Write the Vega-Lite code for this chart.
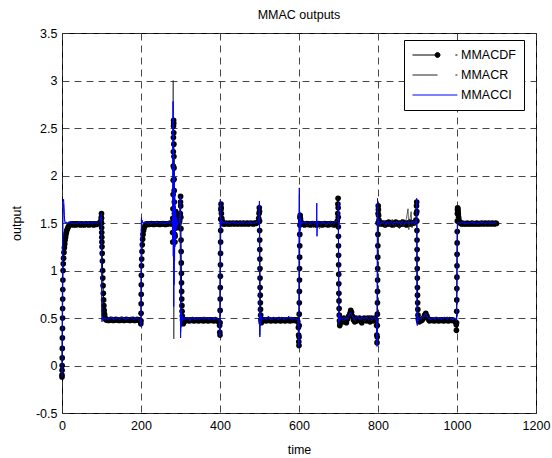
{
  "$schema": "https://vega.github.io/schema/vega-lite/v6.json",
  "autosize": {"type": "none"},
  "padding": {"left": 62, "top": 33, "right": 16, "bottom": 45},
  "width": 474,
  "height": 380,
  "background": "white",
  "title": {"text": "MMAC outputs", "font": "Liberation Sans", "fontSize": 12.5, "fontWeight": "normal", "color": "black", "offset": 6},
  "config": {
    "view": {"stroke": "black", "strokeWidth": 1},
    "axis": {
      "grid": true, "gridDash": [7, 5], "gridColor": "#333333", "gridWidth": 0.9, "gridOpacity": 1,
      "ticks": false, "domain": false, "labelFlush": false,
      "labelFont": "Liberation Sans", "labelFontSize": 12.5, "labelColor": "black",
      "titleFont": "Liberation Sans", "titleFontSize": 12.5, "titleFontWeight": "normal", "titleColor": "black"
    }
  },
  "datasets": {
    "df": [
      {"t":0,"v":-0.12},{"t":0,"v":-0.1},{"t":0.2,"v":-0.05},{"t":0.4,"v":0.0},{"t":0.6,"v":0.08},{"t":0.8,"v":0.18},{"t":1,"v":0.29},{"t":1.2,"v":0.39},{"t":1.4,"v":0.5},{"t":1.6,"v":0.6},{"t":1.8,"v":0.7},{"t":2,"v":0.8},{"t":2.3,"v":0.9},{"t":2.7,"v":1.0},{"t":3.2,"v":1.07},{"t":4,"v":1.13},{"t":5,"v":1.19},{"t":6,"v":1.24},{"t":7,"v":1.28},{"t":8,"v":1.32},{"t":9,"v":1.35},{"t":10,"v":1.38},{"t":11,"v":1.4},{"t":12,"v":1.42},{"t":14,"v":1.44},{"t":16,"v":1.46},{"t":18,"v":1.47},{"t":20,"v":1.48},{"t":23,"v":1.49},
      {"t":26,"v":1.49},{"t":29,"v":1.48},{"t":32,"v":1.49},{"t":35,"v":1.48},{"t":38,"v":1.49},{"t":41,"v":1.485},{"t":44,"v":1.49},{"t":47,"v":1.48},{"t":50,"v":1.49},{"t":53,"v":1.485},{"t":56,"v":1.48},{"t":59,"v":1.49},{"t":62,"v":1.485},{"t":65,"v":1.49},{"t":68,"v":1.48},{"t":71,"v":1.49},{"t":74,"v":1.485},{"t":77,"v":1.49},{"t":80,"v":1.48},{"t":83,"v":1.49},{"t":86,"v":1.485},{"t":89,"v":1.49},{"t":92,"v":1.495},{"t":95,"v":1.5},{"t":97,"v":1.51},{"t":98.5,"v":1.52},
      {"t":99.5,"v":1.56},{"t":100,"v":1.6},{"t":100,"v":1.55},{"t":100.2,"v":1.5},{"t":100.4,"v":1.45},{"t":100.6,"v":1.4},{"t":100.8,"v":1.35},{"t":101,"v":1.3},{"t":101.3,"v":1.25},{"t":101.8,"v":1.18},{"t":102.3,"v":1.1},{"t":102.8,"v":1.0},{"t":103.3,"v":0.92},{"t":104,"v":0.84},{"t":104.7,"v":0.76},{"t":105.4,"v":0.69},{"t":106,"v":0.63},{"t":106.8,"v":0.58},{"t":107.6,"v":0.54},{"t":108.5,"v":0.51},{"t":110,"v":0.49},{"t":112,"v":0.48},
      {"t":115,"v":0.48},{"t":118,"v":0.475},{"t":121,"v":0.48},{"t":124,"v":0.485},{"t":127,"v":0.48},{"t":130,"v":0.475},{"t":133,"v":0.48},{"t":136,"v":0.485},{"t":139,"v":0.48},{"t":142,"v":0.48},{"t":145,"v":0.475},{"t":148,"v":0.48},{"t":151,"v":0.485},{"t":154,"v":0.48},{"t":157,"v":0.475},{"t":160,"v":0.48},{"t":163,"v":0.485},{"t":166,"v":0.48},{"t":169,"v":0.48},{"t":172,"v":0.475},{"t":175,"v":0.48},{"t":178,"v":0.485},{"t":181,"v":0.48},{"t":184,"v":0.475},{"t":187,"v":0.48},{"t":190,"v":0.485},{"t":193,"v":0.48},{"t":196,"v":0.48},{"t":198,"v":0.47},
      {"t":199.5,"v":0.44},{"t":200,"v":0.47},{"t":200.2,"v":0.55},{"t":200.4,"v":0.65},{"t":200.6,"v":0.75},{"t":200.8,"v":0.85},{"t":201,"v":0.95},{"t":201.3,"v":1.05},{"t":201.8,"v":1.12},{"t":202.5,"v":1.2},{"t":203.3,"v":1.27},{"t":204.2,"v":1.33},{"t":205.2,"v":1.38},{"t":206.5,"v":1.42},{"t":208,"v":1.45},{"t":210,"v":1.47},{"t":212,"v":1.48},{"t":214,"v":1.49},
      {"t":217,"v":1.49},{"t":220,"v":1.485},{"t":223,"v":1.49},{"t":226,"v":1.495},{"t":229,"v":1.49},{"t":232,"v":1.485},{"t":235,"v":1.49},{"t":238,"v":1.49},{"t":241,"v":1.495},{"t":244,"v":1.49},{"t":247,"v":1.485},{"t":250,"v":1.49},{"t":253,"v":1.49},{"t":256,"v":1.495},{"t":259,"v":1.49},{"t":262,"v":1.485},{"t":265,"v":1.49},{"t":268,"v":1.49},{"t":271,"v":1.495},{"t":274,"v":1.5},{"t":277,"v":1.49},
      {"t":279,"v":1.5},{"t":280,"v":1.4},{"t":280.3,"v":1.3},{"t":280.5,"v":1.55},{"t":281,"v":1.65},{"t":281.3,"v":1.8},{"t":281.5,"v":1.95},{"t":281.7,"v":2.1},{"t":281.9,"v":2.25},{"t":282.1,"v":2.4},{"t":282.3,"v":2.52},{"t":282.5,"v":2.58},{"t":282.8,"v":2.55},{"t":283,"v":2.45},{"t":283.2,"v":2.33},{"t":283.4,"v":2.2},{"t":283.6,"v":2.08},{"t":283.8,"v":1.96},{"t":284,"v":1.84},{"t":284.3,"v":1.72},{"t":284.6,"v":1.6},{"t":285,"v":1.48},{"t":285.5,"v":1.38},{"t":286,"v":1.3},{"t":286.5,"v":1.36},{"t":287,"v":1.45},{"t":287.5,"v":1.55},{"t":288,"v":1.62},{"t":289,"v":1.58},{"t":290,"v":1.5},{"t":291,"v":1.45},{"t":292,"v":1.48},{"t":294,"v":1.52},{"t":296,"v":1.5},{"t":298,"v":1.52},
      {"t":299.5,"v":1.6},{"t":300,"v":1.72},{"t":300.2,"v":1.78},{"t":300.5,"v":1.68},{"t":300.8,"v":1.56},{"t":301.1,"v":1.44},{"t":301.4,"v":1.32},{"t":301.7,"v":1.2},{"t":302,"v":1.08},{"t":302.3,"v":0.97},{"t":302.6,"v":0.87},{"t":302.9,"v":0.78},{"t":303.2,"v":0.7},{"t":303.6,"v":0.63},{"t":304,"v":0.57},{"t":304.5,"v":0.52},{"t":305,"v":0.48},{"t":306,"v":0.45},{"t":307,"v":0.44},{"t":308.5,"v":0.46},{"t":310,"v":0.48},
      {"t":313,"v":0.47},{"t":316,"v":0.48},{"t":319,"v":0.475},{"t":322,"v":0.47},{"t":325,"v":0.48},{"t":328,"v":0.475},{"t":331,"v":0.48},{"t":334,"v":0.47},{"t":337,"v":0.475},{"t":340,"v":0.48},{"t":343,"v":0.475},{"t":346,"v":0.47},{"t":349,"v":0.48},{"t":352,"v":0.475},{"t":355,"v":0.48},{"t":358,"v":0.47},{"t":361,"v":0.475},{"t":364,"v":0.48},{"t":367,"v":0.475},{"t":370,"v":0.47},{"t":373,"v":0.48},{"t":376,"v":0.475},{"t":379,"v":0.48},{"t":382,"v":0.475},{"t":385,"v":0.47},{"t":388,"v":0.48},{"t":391,"v":0.475},{"t":394,"v":0.47},{"t":397,"v":0.46},
      {"t":399,"v":0.42},{"t":399.5,"v":0.35},{"t":400,"v":0.32},{"t":400.2,"v":0.45},{"t":400.4,"v":0.58},{"t":400.6,"v":0.7},{"t":400.8,"v":0.82},{"t":401,"v":0.94},{"t":401.2,"v":1.06},{"t":401.4,"v":1.18},{"t":401.6,"v":1.3},{"t":401.8,"v":1.42},{"t":402,"v":1.54},{"t":402.3,"v":1.64},{"t":402.6,"v":1.7},{"t":403,"v":1.66},{"t":403.5,"v":1.6},{"t":404.5,"v":1.55},{"t":405.5,"v":1.52},{"t":407,"v":1.5},{"t":409,"v":1.49},
      {"t":412,"v":1.49},{"t":415,"v":1.5},{"t":418,"v":1.495},{"t":421,"v":1.49},{"t":424,"v":1.5},{"t":427,"v":1.49},{"t":430,"v":1.495},{"t":433,"v":1.5},{"t":436,"v":1.49},{"t":439,"v":1.495},{"t":442,"v":1.5},{"t":445,"v":1.49},{"t":448,"v":1.495},{"t":451,"v":1.5},{"t":454,"v":1.49},{"t":457,"v":1.495},{"t":460,"v":1.5},{"t":463,"v":1.49},{"t":466,"v":1.495},{"t":469,"v":1.5},{"t":472,"v":1.49},{"t":475,"v":1.495},{"t":478,"v":1.5},{"t":481,"v":1.495},{"t":484,"v":1.49},{"t":487,"v":1.5},{"t":490,"v":1.495},{"t":493,"v":1.5},{"t":496,"v":1.51},
      {"t":498,"v":1.55},{"t":499,"v":1.6},{"t":499.5,"v":1.66},{"t":500,"v":1.62},{"t":500.2,"v":1.52},{"t":500.4,"v":1.42},{"t":500.6,"v":1.32},{"t":500.8,"v":1.22},{"t":501,"v":1.12},{"t":501.2,"v":1.02},{"t":501.4,"v":0.92},{"t":501.6,"v":0.82},{"t":501.9,"v":0.74},{"t":502.2,"v":0.66},{"t":502.6,"v":0.59},{"t":503,"v":0.53},{"t":503.5,"v":0.48},{"t":504.5,"v":0.45},{"t":506,"v":0.46},{"t":508,"v":0.48},
      {"t":511,"v":0.475},{"t":514,"v":0.48},{"t":517,"v":0.47},{"t":520,"v":0.48},{"t":523,"v":0.475},{"t":526,"v":0.48},{"t":529,"v":0.47},{"t":532,"v":0.475},{"t":535,"v":0.48},{"t":538,"v":0.475},{"t":541,"v":0.47},{"t":544,"v":0.48},{"t":547,"v":0.475},{"t":550,"v":0.48},{"t":553,"v":0.47},{"t":556,"v":0.475},{"t":559,"v":0.48},{"t":562,"v":0.475},{"t":565,"v":0.47},{"t":568,"v":0.48},{"t":571,"v":0.475},{"t":574,"v":0.48},{"t":577,"v":0.47},{"t":580,"v":0.475},{"t":583,"v":0.48},{"t":586,"v":0.475},{"t":589,"v":0.48},{"t":592,"v":0.475},{"t":595,"v":0.48},{"t":597,"v":0.46},
      {"t":598.5,"v":0.4},{"t":599,"v":0.32},{"t":599.5,"v":0.25},{"t":600,"v":0.21},{"t":600.2,"v":0.3},{"t":600.4,"v":0.42},{"t":600.6,"v":0.54},{"t":600.8,"v":0.66},{"t":601,"v":0.78},{"t":601.2,"v":0.9},{"t":601.4,"v":1.02},{"t":601.6,"v":1.14},{"t":601.8,"v":1.26},{"t":602,"v":1.38},{"t":602.3,"v":1.48},{"t":602.6,"v":1.56},{"t":603,"v":1.58},{"t":603.5,"v":1.55},{"t":604.5,"v":1.52},{"t":606,"v":1.5},{"t":608,"v":1.49},
      {"t":611,"v":1.49},{"t":614,"v":1.48},{"t":617,"v":1.49},{"t":620,"v":1.495},{"t":623,"v":1.485},{"t":626,"v":1.49},{"t":629,"v":1.48},{"t":632,"v":1.49},{"t":635,"v":1.495},{"t":638,"v":1.485},{"t":641,"v":1.49},{"t":644,"v":1.48},{"t":647,"v":1.49},{"t":650,"v":1.495},{"t":653,"v":1.485},{"t":656,"v":1.49},{"t":659,"v":1.48},{"t":662,"v":1.49},{"t":665,"v":1.495},{"t":668,"v":1.485},{"t":671,"v":1.49},{"t":674,"v":1.48},{"t":677,"v":1.49},{"t":680,"v":1.495},{"t":683,"v":1.485},{"t":686,"v":1.49},{"t":689,"v":1.48},{"t":692,"v":1.49},{"t":695,"v":1.5},{"t":697,"v":1.52},
      {"t":698,"v":1.6},{"t":698.5,"v":1.7},{"t":699,"v":1.76},{"t":699.2,"v":1.66},{"t":699.4,"v":1.56},{"t":699.6,"v":1.46},{"t":699.8,"v":1.36},{"t":700,"v":1.26},{"t":700.2,"v":1.16},{"t":700.4,"v":1.06},{"t":700.6,"v":0.96},{"t":700.8,"v":0.86},{"t":701,"v":0.76},{"t":701.3,"v":0.68},{"t":701.6,"v":0.6},{"t":702,"v":0.53},{"t":702.5,"v":0.47},{"t":703.2,"v":0.42},{"t":704,"v":0.44},{"t":705,"v":0.47},
      {"t":708,"v":0.48},{"t":711,"v":0.46},{"t":714,"v":0.5},{"t":717,"v":0.47},{"t":720,"v":0.45},{"t":723,"v":0.49},{"t":726,"v":0.52},{"t":729,"v":0.55},{"t":731,"v":0.58},{"t":733,"v":0.56},{"t":735,"v":0.52},{"t":738,"v":0.48},{"t":741,"v":0.46},{"t":744,"v":0.5},{"t":747,"v":0.47},{"t":750,"v":0.49},{"t":753,"v":0.5},{"t":756,"v":0.47},{"t":759,"v":0.45},{"t":762,"v":0.48},{"t":765,"v":0.5},{"t":768,"v":0.49},{"t":771,"v":0.47},{"t":774,"v":0.5},{"t":777,"v":0.48},{"t":780,"v":0.46},{"t":783,"v":0.5},{"t":786,"v":0.49},{"t":789,"v":0.47},{"t":792,"v":0.5},{"t":795,"v":0.48},
      {"t":796.5,"v":0.42},{"t":797,"v":0.32},{"t":797.5,"v":0.24},{"t":798,"v":0.3},{"t":798.2,"v":0.42},{"t":798.4,"v":0.54},{"t":798.6,"v":0.66},{"t":798.8,"v":0.78},{"t":799,"v":0.9},{"t":799.2,"v":1.02},{"t":799.4,"v":1.14},{"t":799.6,"v":1.26},{"t":799.8,"v":1.38},{"t":800,"v":1.5},{"t":800.3,"v":1.6},{"t":800.6,"v":1.68},{"t":801,"v":1.64},{"t":801.5,"v":1.58},{"t":802.5,"v":1.53},{"t":804,"v":1.5},{"t":806,"v":1.49},
      {"t":809,"v":1.5},{"t":812,"v":1.49},{"t":815,"v":1.5},{"t":818,"v":1.48},{"t":821,"v":1.5},{"t":824,"v":1.49},{"t":827,"v":1.51},{"t":830,"v":1.49},{"t":833,"v":1.5},{"t":836,"v":1.48},{"t":839,"v":1.5},{"t":842,"v":1.49},{"t":845,"v":1.51},{"t":848,"v":1.49},{"t":851,"v":1.5},{"t":854,"v":1.48},{"t":857,"v":1.5},{"t":860,"v":1.49},{"t":863,"v":1.51},{"t":866,"v":1.49},{"t":869,"v":1.5},{"t":872,"v":1.48},{"t":875,"v":1.5},{"t":878,"v":1.49},{"t":881,"v":1.51},{"t":884,"v":1.49},{"t":887,"v":1.5},{"t":890,"v":1.5},{"t":893,"v":1.51},{"t":896,"v":1.53},
      {"t":897,"v":1.6},{"t":897.5,"v":1.68},{"t":898,"v":1.72},{"t":898.2,"v":1.62},{"t":898.4,"v":1.52},{"t":898.6,"v":1.42},{"t":898.8,"v":1.32},{"t":899,"v":1.22},{"t":899.2,"v":1.12},{"t":899.4,"v":1.02},{"t":899.6,"v":0.92},{"t":899.8,"v":0.82},{"t":900,"v":0.74},{"t":900.4,"v":0.66},{"t":900.8,"v":0.59},{"t":901.3,"v":0.53},{"t":902,"v":0.49},{"t":903,"v":0.47},{"t":904.5,"v":0.46},{"t":906,"v":0.48},
      {"t":909,"v":0.47},{"t":912,"v":0.48},{"t":915,"v":0.5},{"t":918,"v":0.53},{"t":921,"v":0.55},{"t":924,"v":0.52},{"t":927,"v":0.49},{"t":930,"v":0.47},{"t":933,"v":0.48},{"t":936,"v":0.475},{"t":939,"v":0.48},{"t":942,"v":0.47},{"t":945,"v":0.475},{"t":948,"v":0.48},{"t":951,"v":0.475},{"t":954,"v":0.47},{"t":957,"v":0.48},{"t":960,"v":0.475},{"t":963,"v":0.48},{"t":966,"v":0.47},{"t":969,"v":0.475},{"t":972,"v":0.48},{"t":975,"v":0.475},{"t":978,"v":0.47},{"t":981,"v":0.48},{"t":984,"v":0.475},{"t":987,"v":0.48},{"t":990,"v":0.475},{"t":993,"v":0.47},{"t":996,"v":0.46},
      {"t":998,"v":0.43},{"t":998.5,"v":0.37},{"t":999,"v":0.45},{"t":999.2,"v":0.57},{"t":999.4,"v":0.69},{"t":999.6,"v":0.81},{"t":999.8,"v":0.93},{"t":1000,"v":1.05},{"t":1000.2,"v":1.17},{"t":1000.4,"v":1.29},{"t":1000.6,"v":1.41},{"t":1000.8,"v":1.52},{"t":1001,"v":1.6},{"t":1001.3,"v":1.64},{"t":1001.6,"v":1.66},{"t":1002,"v":1.65},{"t":1002.4,"v":1.63},{"t":1002.8,"v":1.61},{"t":1003.3,"v":1.59},{"t":1004,"v":1.56},{"t":1005,"v":1.53},{"t":1006.5,"v":1.51},{"t":1008,"v":1.5},
      {"t":1011,"v":1.49},{"t":1014,"v":1.5},{"t":1017,"v":1.49},{"t":1020,"v":1.495},{"t":1023,"v":1.49},{"t":1026,"v":1.5},{"t":1029,"v":1.49},{"t":1032,"v":1.495},{"t":1035,"v":1.49},{"t":1038,"v":1.5},{"t":1041,"v":1.49},{"t":1044,"v":1.495},{"t":1047,"v":1.49},{"t":1050,"v":1.5},{"t":1053,"v":1.49},{"t":1056,"v":1.495},{"t":1059,"v":1.49},{"t":1062,"v":1.5},{"t":1065,"v":1.495},{"t":1068,"v":1.49},{"t":1071,"v":1.5},{"t":1074,"v":1.495},{"t":1077,"v":1.49},{"t":1080,"v":1.5},{"t":1083,"v":1.495},{"t":1086,"v":1.49},{"t":1089,"v":1.5},{"t":1092,"v":1.495},{"t":1095,"v":1.49},{"t":1098,"v":1.5},{"t":1100,"v":1.495}
    ],
    "r": [
      {"t":0,"v":-0.12},{"t":1,"v":0.7},{"t":2,"v":1.3},{"t":3,"v":1.62},{"t":4,"v":1.7},{"t":6,"v":1.55},{"t":8,"v":1.5},{"t":18,"v":1.51},{"t":28,"v":1.49},{"t":38,"v":1.5},{"t":48,"v":1.51},{"t":58,"v":1.49},{"t":68,"v":1.5},{"t":78,"v":1.51},{"t":88,"v":1.49},{"t":98,"v":1.52},{"t":99.7,"v":1.58},{"t":100.5,"v":0.9},{"t":101,"v":0.48},{"t":102,"v":0.5},{"t":112,"v":0.49},{"t":122,"v":0.51},{"t":132,"v":0.49},{"t":142,"v":0.5},{"t":152,"v":0.51},{"t":162,"v":0.49},{"t":172,"v":0.5},{"t":182,"v":0.51},{"t":192,"v":0.49},{"t":199.5,"v":0.44},{"t":200.3,"v":1.0},{"t":201,"v":1.55},{"t":202,"v":1.5},{"t":212,"v":1.51},{"t":222,"v":1.49},{"t":232,"v":1.5},{"t":242,"v":1.51},{"t":252,"v":1.49},{"t":262,"v":1.5},{"t":272,"v":1.51},{"t":279,"v":1.5},
      {"t":280.5,"v":1.6},{"t":281,"v":2.2},{"t":281.5,"v":3.0},{"t":282,"v":2.0},{"t":282.5,"v":1.0},{"t":283,"v":0.28},{"t":283.5,"v":0.7},{"t":284,"v":1.8},{"t":284.5,"v":2.2},{"t":285,"v":1.1},{"t":285.6,"v":1.7},{"t":286.2,"v":1.3},{"t":287,"v":1.6},{"t":288,"v":1.42},{"t":289,"v":1.55},{"t":290.5,"v":1.47},{"t":292,"v":1.51},{"t":295,"v":1.5},{"t":298,"v":1.52},{"t":299.3,"v":1.7},{"t":300,"v":0.8},{"t":300.5,"v":0.35},{"t":301,"v":0.55},{"t":302,"v":0.45},{"t":303,"v":0.53},{"t":305,"v":0.48},{"t":310,"v":0.5},{"t":320,"v":0.49},{"t":330,"v":0.51},{"t":340,"v":0.48},{"t":350,"v":0.5},{"t":360,"v":0.51},{"t":370,"v":0.49},{"t":380,"v":0.5},{"t":390,"v":0.51},{"t":398.5,"v":0.47},
      {"t":399.5,"v":0.3},{"t":400.5,"v":1.3},{"t":401,"v":1.7},{"t":402,"v":1.48},{"t":403,"v":1.53},{"t":410,"v":1.5},{"t":420,"v":1.49},{"t":430,"v":1.51},{"t":440,"v":1.5},{"t":450,"v":1.49},{"t":460,"v":1.52},{"t":470,"v":1.5},{"t":480,"v":1.49},{"t":490,"v":1.51},{"t":498,"v":1.53},{"t":499.8,"v":1.7},{"t":500.8,"v":0.32},{"t":501.5,"v":0.55},{"t":502.5,"v":0.45},{"t":504,"v":0.5},{"t":510,"v":0.49},{"t":520,"v":0.51},{"t":530,"v":0.48},{"t":540,"v":0.5},{"t":550,"v":0.51},{"t":560,"v":0.49},{"t":570,"v":0.5},{"t":580,"v":0.51},{"t":590,"v":0.49},{"t":597,"v":0.48},
      {"t":599.5,"v":0.22},{"t":600.5,"v":1.5},{"t":601,"v":1.8},{"t":602,"v":1.42},{"t":603,"v":1.56},{"t":605,"v":1.48},{"t":612,"v":1.51},{"t":620,"v":1.47},{"t":628,"v":1.52},{"t":636,"v":1.45},{"t":644,"v":1.5},{"t":652,"v":1.44},{"t":660,"v":1.52},{"t":668,"v":1.47},{"t":676,"v":1.5},{"t":684,"v":1.46},{"t":692,"v":1.51},{"t":698,"v":1.54},{"t":699.7,"v":1.7},{"t":700.7,"v":0.42},{"t":701.5,"v":0.56},{"t":703,"v":0.46},{"t":706,"v":0.5},{"t":712,"v":0.47},{"t":718,"v":0.52},{"t":724,"v":0.48},{"t":730,"v":0.56},{"t":736,"v":0.5},{"t":742,"v":0.46},{"t":748,"v":0.52},{"t":754,"v":0.48},{"t":760,"v":0.51},{"t":766,"v":0.46},{"t":772,"v":0.5},{"t":778,"v":0.53},{"t":784,"v":0.47},{"t":790,"v":0.5},{"t":796.5,"v":0.47},
      {"t":797.5,"v":0.22},{"t":798.5,"v":1.4},{"t":799,"v":1.74},{"t":800,"v":1.48},{"t":802,"v":1.53},{"t":806,"v":1.47},{"t":812,"v":1.53},{"t":818,"v":1.45},{"t":824,"v":1.52},{"t":830,"v":1.46},{"t":836,"v":1.54},{"t":842,"v":1.45},{"t":848,"v":1.52},{"t":854,"v":1.44},{"t":860,"v":1.54},{"t":866,"v":1.46},{"t":872,"v":1.55},{"t":876,"v":1.65},{"t":878,"v":1.43},{"t":880,"v":1.52},{"t":884,"v":1.62},{"t":886,"v":1.45},{"t":890,"v":1.52},{"t":894,"v":1.47},{"t":897,"v":1.6},{"t":897.8,"v":1.74},{"t":898.8,"v":0.44},{"t":900,"v":0.52},{"t":902,"v":0.47},{"t":906,"v":0.5},{"t":916,"v":0.52},{"t":921,"v":0.55},{"t":926,"v":0.5},{"t":936,"v":0.49},{"t":946,"v":0.51},{"t":956,"v":0.49},{"t":966,"v":0.5},{"t":976,"v":0.51},{"t":986,"v":0.49},{"t":996,"v":0.5},{"t":999,"v":0.48},{"t":1000,"v":1.0},{"t":1001,"v":1.4},{"t":1002,"v":1.5},{"t":1010,"v":1.51},{"t":1020,"v":1.49},{"t":1030,"v":1.5},{"t":1040,"v":1.51},{"t":1050,"v":1.49},{"t":1060,"v":1.5},{"t":1070,"v":1.51},{"t":1080,"v":1.49},{"t":1090,"v":1.5},{"t":1100,"v":1.5}
    ],
    "ci": [
      {"t":0,"v":-0.12},{"t":0.5,"v":0.3},{"t":1,"v":0.8},{"t":1.5,"v":1.25},{"t":2,"v":1.55},{"t":3,"v":1.72},{"t":4,"v":1.75},{"t":5,"v":1.68},{"t":6,"v":1.58},{"t":7,"v":1.52},{"t":8,"v":1.5},
      {"t":11,"v":1.51},{"t":14,"v":1.49},{"t":17,"v":1.51},{"t":20,"v":1.5},{"t":23,"v":1.52},{"t":26,"v":1.49},{"t":29,"v":1.51},{"t":32,"v":1.5},{"t":35,"v":1.49},{"t":38,"v":1.51},{"t":41,"v":1.5},{"t":44,"v":1.52},{"t":47,"v":1.49},{"t":50,"v":1.5},{"t":53,"v":1.51},{"t":56,"v":1.49},{"t":59,"v":1.51},{"t":62,"v":1.5},{"t":65,"v":1.52},{"t":68,"v":1.49},{"t":71,"v":1.51},{"t":74,"v":1.5},{"t":77,"v":1.49},{"t":80,"v":1.51},{"t":83,"v":1.5},{"t":86,"v":1.52},{"t":89,"v":1.5},{"t":92,"v":1.51},{"t":95,"v":1.52},{"t":98,"v":1.53},{"t":99.5,"v":1.6},
      {"t":100.3,"v":1.1},{"t":100.8,"v":0.55},{"t":101.3,"v":0.46},{"t":102,"v":0.5},{"t":104,"v":0.48},
      {"t":107,"v":0.51},{"t":110,"v":0.49},{"t":113,"v":0.5},{"t":116,"v":0.48},{"t":119,"v":0.51},{"t":122,"v":0.49},{"t":125,"v":0.5},{"t":128,"v":0.51},{"t":131,"v":0.48},{"t":134,"v":0.5},{"t":137,"v":0.49},{"t":140,"v":0.51},{"t":143,"v":0.5},{"t":146,"v":0.48},{"t":149,"v":0.5},{"t":152,"v":0.51},{"t":155,"v":0.49},{"t":158,"v":0.5},{"t":161,"v":0.48},{"t":164,"v":0.51},{"t":167,"v":0.49},{"t":170,"v":0.5},{"t":173,"v":0.51},{"t":176,"v":0.49},{"t":179,"v":0.5},{"t":182,"v":0.48},{"t":185,"v":0.51},{"t":188,"v":0.49},{"t":191,"v":0.5},{"t":194,"v":0.49},{"t":197,"v":0.48},{"t":199.3,"v":0.47},
      {"t":200,"v":0.41},{"t":200.4,"v":0.9},{"t":200.8,"v":1.4},{"t":201.2,"v":1.56},{"t":202,"v":1.5},{"t":203,"v":1.53},
      {"t":206,"v":1.49},{"t":209,"v":1.51},{"t":212,"v":1.5},{"t":215,"v":1.52},{"t":218,"v":1.49},{"t":221,"v":1.51},{"t":224,"v":1.5},{"t":227,"v":1.49},{"t":230,"v":1.51},{"t":233,"v":1.5},{"t":236,"v":1.52},{"t":239,"v":1.49},{"t":242,"v":1.51},{"t":245,"v":1.5},{"t":248,"v":1.49},{"t":251,"v":1.51},{"t":254,"v":1.5},{"t":257,"v":1.52},{"t":260,"v":1.49},{"t":263,"v":1.51},{"t":266,"v":1.5},{"t":269,"v":1.52},{"t":272,"v":1.49},{"t":275,"v":1.51},{"t":278,"v":1.5},
      {"t":280,"v":1.55},{"t":280.6,"v":1.3},{"t":281.2,"v":2.78},{"t":281.7,"v":1.15},{"t":282.2,"v":2.3},{"t":282.7,"v":0.62},{"t":283.2,"v":2.1},{"t":283.7,"v":0.85},{"t":284.2,"v":1.95},{"t":284.8,"v":1.1},{"t":285.4,"v":1.8},{"t":286,"v":1.25},{"t":286.6,"v":1.68},{"t":287.2,"v":1.35},{"t":287.8,"v":1.6},{"t":288.5,"v":1.42},{"t":289.2,"v":1.56},{"t":290,"v":1.45},{"t":291,"v":1.53},{"t":292,"v":1.48},{"t":293,"v":1.51},{"t":295,"v":1.5},{"t":297,"v":1.52},{"t":298.5,"v":1.55},{"t":299.2,"v":1.78},{"t":299.7,"v":1.0},{"t":300.2,"v":0.29},{"t":300.7,"v":0.6},{"t":301.2,"v":0.4},{"t":301.8,"v":0.58},{"t":302.4,"v":0.45},{"t":303,"v":0.55},{"t":304,"v":0.47},{"t":305,"v":0.52},{"t":306.5,"v":0.48},
      {"t":309,"v":0.5},{"t":312,"v":0.48},{"t":315,"v":0.51},{"t":318,"v":0.49},{"t":321,"v":0.5},{"t":324,"v":0.47},{"t":327,"v":0.5},{"t":330,"v":0.49},{"t":333,"v":0.51},{"t":336,"v":0.48},{"t":339,"v":0.5},{"t":342,"v":0.49},{"t":345,"v":0.51},{"t":348,"v":0.48},{"t":351,"v":0.5},{"t":354,"v":0.49},{"t":357,"v":0.51},{"t":360,"v":0.48},{"t":363,"v":0.5},{"t":366,"v":0.49},{"t":369,"v":0.51},{"t":372,"v":0.48},{"t":375,"v":0.5},{"t":378,"v":0.49},{"t":381,"v":0.51},{"t":384,"v":0.48},{"t":387,"v":0.5},{"t":390,"v":0.49},{"t":393,"v":0.5},{"t":396,"v":0.48},{"t":398.5,"v":0.47},
      {"t":399.5,"v":0.3},{"t":400,"v":0.8},{"t":400.4,"v":1.4},{"t":400.8,"v":1.75},{"t":401.3,"v":1.5},{"t":402,"v":1.45},{"t":403,"v":1.53},{"t":404.5,"v":1.49},
      {"t":407,"v":1.51},{"t":410,"v":1.5},{"t":413,"v":1.52},{"t":416,"v":1.49},{"t":419,"v":1.51},{"t":422,"v":1.5},{"t":425,"v":1.49},{"t":428,"v":1.51},{"t":431,"v":1.5},{"t":434,"v":1.52},{"t":437,"v":1.49},{"t":440,"v":1.51},{"t":443,"v":1.5},{"t":446,"v":1.49},{"t":449,"v":1.51},{"t":452,"v":1.5},{"t":455,"v":1.52},{"t":458,"v":1.49},{"t":461,"v":1.51},{"t":464,"v":1.5},{"t":467,"v":1.49},{"t":470,"v":1.51},{"t":473,"v":1.5},{"t":476,"v":1.52},{"t":479,"v":1.49},{"t":482,"v":1.51},{"t":485,"v":1.5},{"t":488,"v":1.49},{"t":491,"v":1.51},{"t":494,"v":1.5},{"t":497,"v":1.52},{"t":499,"v":1.55},
      {"t":499.8,"v":1.73},{"t":500.3,"v":1.0},{"t":500.8,"v":0.3},{"t":501.3,"v":0.56},{"t":501.9,"v":0.42},{"t":502.5,"v":0.54},{"t":503.2,"v":0.46},{"t":504,"v":0.52},{"t":505.5,"v":0.48},
      {"t":508,"v":0.5},{"t":511,"v":0.49},{"t":514,"v":0.51},{"t":517,"v":0.48},{"t":520,"v":0.5},{"t":523,"v":0.52},{"t":526,"v":0.49},{"t":529,"v":0.5},{"t":532,"v":0.48},{"t":535,"v":0.51},{"t":538,"v":0.5},{"t":541,"v":0.49},{"t":544,"v":0.51},{"t":547,"v":0.48},{"t":550,"v":0.5},{"t":553,"v":0.49},{"t":556,"v":0.51},{"t":559,"v":0.5},{"t":562,"v":0.48},{"t":565,"v":0.51},{"t":568,"v":0.49},{"t":571,"v":0.5},{"t":574,"v":0.52},{"t":577,"v":0.49},{"t":580,"v":0.5},{"t":583,"v":0.48},{"t":586,"v":0.51},{"t":589,"v":0.49},{"t":592,"v":0.5},{"t":595,"v":0.49},{"t":598,"v":0.47},
      {"t":599.5,"v":0.2},{"t":600,"v":0.9},{"t":600.4,"v":1.6},{"t":600.8,"v":1.87},{"t":601.3,"v":1.3},{"t":601.8,"v":1.62},{"t":602.4,"v":1.42},{"t":603,"v":1.56},{"t":603.8,"v":1.46},{"t":604.8,"v":1.53},{"t":606,"v":1.49},
      {"t":609,"v":1.51},{"t":612,"v":1.5},{"t":615,"v":1.52},{"t":618,"v":1.49},{"t":621,"v":1.51},{"t":624,"v":1.5},{"t":627,"v":1.48},{"t":630,"v":1.51},{"t":633,"v":1.5},{"t":636,"v":1.52},{"t":639,"v":1.49},{"t":642,"v":1.51},{"t":644.5,"v":1.5},{"t":645,"v":1.71},{"t":645.5,"v":1.36},{"t":646.5,"v":1.5},{"t":649,"v":1.51},{"t":652,"v":1.49},{"t":655,"v":1.5},{"t":658,"v":1.52},{"t":661,"v":1.49},{"t":664,"v":1.51},{"t":667,"v":1.5},{"t":670,"v":1.48},{"t":673,"v":1.51},{"t":676,"v":1.5},{"t":679,"v":1.52},{"t":682,"v":1.49},{"t":685,"v":1.51},{"t":688,"v":1.5},{"t":691,"v":1.52},{"t":694,"v":1.51},{"t":697,"v":1.53},{"t":699,"v":1.55},
      {"t":699.7,"v":1.72},{"t":700.2,"v":1.0},{"t":700.7,"v":0.45},{"t":701.2,"v":0.55},{"t":702,"v":0.46},{"t":703,"v":0.52},{"t":704.5,"v":0.48},
      {"t":707,"v":0.5},{"t":710,"v":0.49},{"t":713,"v":0.51},{"t":716,"v":0.48},{"t":719,"v":0.5},{"t":722,"v":0.49},{"t":725,"v":0.52},{"t":728,"v":0.54},{"t":731,"v":0.56},{"t":734,"v":0.53},{"t":737,"v":0.5},{"t":740,"v":0.48},{"t":743,"v":0.51},{"t":746,"v":0.5},{"t":749,"v":0.52},{"t":752,"v":0.49},{"t":755,"v":0.5},{"t":758,"v":0.48},{"t":761,"v":0.51},{"t":764,"v":0.5},{"t":767,"v":0.49},{"t":770,"v":0.51},{"t":773,"v":0.5},{"t":776,"v":0.48},{"t":779,"v":0.5},{"t":782,"v":0.51},{"t":785,"v":0.49},{"t":788,"v":0.5},{"t":791,"v":0.52},{"t":794,"v":0.49},{"t":796.5,"v":0.48},
      {"t":797.5,"v":0.2},{"t":798,"v":0.8},{"t":798.4,"v":1.4},{"t":798.8,"v":1.76},{"t":799.3,"v":1.45},{"t":800,"v":1.55},{"t":801,"v":1.48},{"t":802,"v":1.52},
      {"t":805,"v":1.5},{"t":808,"v":1.49},{"t":811,"v":1.51},{"t":814,"v":1.5},{"t":817,"v":1.52},{"t":820,"v":1.48},{"t":823,"v":1.51},{"t":826,"v":1.5},{"t":829,"v":1.49},{"t":832,"v":1.52},{"t":835,"v":1.5},{"t":838,"v":1.48},{"t":841,"v":1.51},{"t":844,"v":1.5},{"t":847,"v":1.52},{"t":850,"v":1.49},{"t":853,"v":1.51},{"t":856,"v":1.5},{"t":859,"v":1.48},{"t":862,"v":1.52},{"t":865,"v":1.5},{"t":868,"v":1.49},{"t":871,"v":1.51},{"t":874,"v":1.5},{"t":877,"v":1.52},{"t":880,"v":1.49},{"t":883,"v":1.51},{"t":886,"v":1.5},{"t":889,"v":1.52},{"t":892,"v":1.49},{"t":895,"v":1.51},{"t":897,"v":1.55},
      {"t":897.8,"v":1.76},{"t":898.3,"v":1.0},{"t":898.8,"v":0.45},{"t":899.5,"v":0.42},{"t":900.2,"v":0.55},{"t":901,"v":0.47},{"t":902,"v":0.51},{"t":903.5,"v":0.49},
      {"t":906,"v":0.5},{"t":909,"v":0.49},{"t":912,"v":0.51},{"t":915,"v":0.5},{"t":918,"v":0.53},{"t":921,"v":0.55},{"t":924,"v":0.52},{"t":927,"v":0.49},{"t":930,"v":0.5},{"t":933,"v":0.48},{"t":936,"v":0.51},{"t":939,"v":0.49},{"t":942,"v":0.5},{"t":945,"v":0.48},{"t":948,"v":0.51},{"t":951,"v":0.5},{"t":954,"v":0.49},{"t":957,"v":0.51},{"t":960,"v":0.48},{"t":963,"v":0.5},{"t":966,"v":0.49},{"t":969,"v":0.51},{"t":972,"v":0.5},{"t":975,"v":0.48},{"t":978,"v":0.5},{"t":981,"v":0.51},{"t":984,"v":0.49},{"t":987,"v":0.5},{"t":990,"v":0.48},{"t":993,"v":0.5},{"t":996,"v":0.49},{"t":998.5,"v":0.47},
      {"t":999,"v":0.5},{"t":999.5,"v":0.8},{"t":1000,"v":1.1},{"t":1000.5,"v":1.3},{"t":1001,"v":1.4},{"t":1001.5,"v":1.47},{"t":1002,"v":1.5},{"t":1003,"v":1.51},
      {"t":1006,"v":1.5},{"t":1009,"v":1.49},{"t":1012,"v":1.51},{"t":1015,"v":1.5},{"t":1018,"v":1.52},{"t":1021,"v":1.49},{"t":1024,"v":1.51},{"t":1027,"v":1.5},{"t":1030,"v":1.49},{"t":1033,"v":1.51},{"t":1036,"v":1.5},{"t":1039,"v":1.52},{"t":1042,"v":1.49},{"t":1045,"v":1.51},{"t":1048,"v":1.5},{"t":1051,"v":1.49},{"t":1054,"v":1.51},{"t":1057,"v":1.5},{"t":1060,"v":1.52},{"t":1063,"v":1.49},{"t":1066,"v":1.51},{"t":1069,"v":1.5},{"t":1072,"v":1.49},{"t":1075,"v":1.51},{"t":1078,"v":1.5},{"t":1081,"v":1.52},{"t":1084,"v":1.49},{"t":1087,"v":1.51},{"t":1090,"v":1.5},{"t":1093,"v":1.49},{"t":1096,"v":1.51},{"t":1099,"v":1.5},{"t":1100,"v":1.5}
    ]
  },
  "encoding": {
    "x": {"field": "t", "type": "quantitative", "scale": {"domain": [0, 1200], "nice": false},
          "axis": {"title": "time", "values": [0, 200, 400, 600, 800, 1000, 1200], "format": "d", "labelPadding": 6, "titlePadding": 12}},
    "y": {"field": "v", "type": "quantitative", "scale": {"domain": [-0.5, 3.5], "nice": false, "zero": false},
          "axis": {"title": "output", "values": [-0.5, 0, 0.5, 1, 1.5, 2, 2.5, 3, 3.5], "format": "~g", "labelExpr": "replace(datum.label, '\u2212', '-')", "labelPadding": 5, "titlePadding": 12}}
  },
  "layer": [
    {
      "data": {"name": "df"},
      "mark": {"type": "line", "strokeWidth": 1, "interpolate": "linear"},
      "encoding": {
        "color": {"datum": "MMACDF", "type": "nominal",
          "scale": {"domain": ["MMACDF", "MMACR", "MMACCI"], "range": ["#000000", "#222222", "#0000ff"]},
          "legend": {"title": null, "orient": "none", "legendX": 342, "legendY": 7, "padding": 8, "strokeColor": "black", "fillColor": "white", "cornerRadius": 0,
            "labelFont": "Liberation Sans", "labelFontSize": 12.5, "labelColor": "black", "symbolSize": 169, "symbolStrokeWidth": 1, "labelOffset": 35, "rowPadding": 6, "symbolOffset": 0,
            "encoding": {"symbols": {"fill": {"value": "black"}, "shape": {"condition": [{"test": "datum.value === 'MMACDF'", "value": "M-1,0H2.85M5.6,0H5.92M2.47,0A0.38,0.38,0,1,0,3.23,0A0.38,0.38,0,1,0,2.47,0Z"}, {"test": "datum.value === 'MMACR'", "value": "M-1,0H2.85M5.6,0H5.92"}], "value": "M-1,0H5.92"}}}}
        }
      }
    },
    {
      "data": {"name": "df"},
      "mark": {"type": "point", "filled": true, "size": 32, "color": "black", "opacity": 1, "strokeWidth": 0}
    },
    {
      "data": {"name": "r"},
      "mark": {"type": "line", "strokeWidth": 0.7},
      "encoding": {"color": {"datum": "MMACR", "type": "nominal"}}
    },
    {
      "data": {"name": "ci"},
      "mark": {"type": "line", "strokeWidth": 1},
      "encoding": {"color": {"datum": "MMACCI", "type": "nominal"}}
    }
  ]
}
